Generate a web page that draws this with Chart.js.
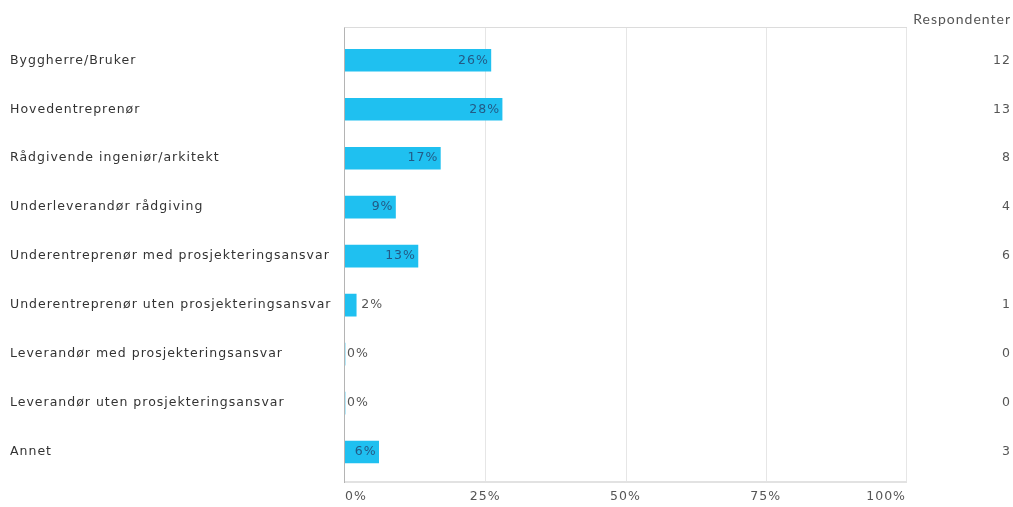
<!DOCTYPE html>
<html>
<head>
<meta charset="utf-8">
<script src="https://cdn.jsdelivr.net/npm/chart.js@4.4.1/dist/chart.umd.min.js"></script>
<style>
  html, body { margin: 0; padding: 0; background: #fff; }
  #wrap { width: 1013px; height: 507px; }
</style>
</head>
<body>
<div id="wrap"><canvas id="rolleChart"></canvas></div>
<script>
const roller = [
  'Byggherre/Bruker',
  'Hovedentreprenør',
  'Rådgivende ingeniør/arkitekt',
  'Underleverandør rådgiving',
  'Underentreprenør med prosjekteringsansvar',
  'Underentreprenør uten prosjekteringsansvar',
  'Leverandør med prosjekteringsansvar',
  'Leverandør uten prosjekteringsansvar',
  'Annet'
];
const prosent = [26, 28, 17, 9, 13, 2, 0, 0, 6];
const respondenter = [12, 13, 8, 4, 6, 1, 0, 0, 3];
const prosentTicks = [0, 25, 50, 75, 100];

const fontFamily = '"DejaVu Sans", Verdana, sans-serif';
const labelFont = { family: fontFamily, size: 12.5 };

// frame and vertical grid lines, drawn a little past the bar bands
const framePlugin = {
  id: 'frame',
  beforeDraw(chart) {
    chart.ctx.letterSpacing = '1px';
  },
  beforeDatasetsDraw(chart) {
    const { ctx, chartArea, scales } = chart;
    const top = chartArea.top - 8.5;
    const bottom = chartArea.bottom + 5.5;
    ctx.save();
    ctx.lineWidth = 1;
    ctx.strokeStyle = '#e6e6e6';
    prosentTicks.forEach(v => {
      if (v === 0) return;
      const x = Math.round(scales.x.getPixelForValue(v)) + 0.5;
      ctx.beginPath();
      ctx.moveTo(x, top);
      ctx.lineTo(x, bottom);
      ctx.stroke();
    });
    ctx.strokeStyle = '#dcdcdc';
    ctx.beginPath();
    ctx.moveTo(chartArea.left, Math.round(top) + 0.5);
    ctx.lineTo(chartArea.right + 1, Math.round(top) + 0.5);
    ctx.stroke();
    ctx.lineWidth = 2;
    ctx.strokeStyle = '#e2e2e2';
    ctx.beginPath();
    ctx.moveTo(chartArea.left, Math.round(bottom));
    ctx.lineTo(chartArea.right + 1, Math.round(bottom));
    ctx.stroke();
    ctx.lineWidth = 1;
    ctx.strokeStyle = '#b4b4b4';
    const x0 = Math.round(scales.x.getPixelForValue(0)) - 0.5;
    ctx.beginPath();
    ctx.moveTo(x0, top);
    ctx.lineTo(x0, bottom + 1);
    ctx.stroke();
    ctx.restore();
  },
  // percentage label at the end of each bar
  afterDatasetsDraw(chart) {
    const { ctx } = chart;
    const meta = chart.getDatasetMeta(0);
    ctx.save();
    ctx.font = '12.5px ' + fontFamily;
    ctx.letterSpacing = '1px';
    ctx.textBaseline = 'middle';
    meta.data.forEach((bar, i) => {
      const txt = prosent[i] + '%';
      const w = ctx.measureText(txt).width;
      const barW = bar.x - bar.base;
      if (prosent[i] === 0) {
        ctx.fillStyle = '#555';
        ctx.textAlign = 'left';
        ctx.fillText(txt, bar.base + 2, bar.y);
      } else if (barW >= w + 3) {
        ctx.fillStyle = '#235a86';
        ctx.textAlign = 'right';
        ctx.fillText(txt, bar.x - 2, bar.y);
      } else {
        ctx.fillStyle = '#555';
        ctx.textAlign = 'left';
        ctx.fillText(txt, bar.x + 5, bar.y);
      }
    });
    ctx.restore();
  }
};

const ctx = document.getElementById('rolleChart').getContext('2d');

const rolleChart = new Chart(ctx, {
  type: 'bar',
  data: {
    labels: roller,
    datasets: [{
      label: 'Andel',
      data: prosent,
      backgroundColor: '#1fc0f0',
      borderWidth: 0,
      barThickness: 22,
      minBarLength: 0,
      yAxisID: 'y'
    }]
  },
  options: {
    indexAxis: 'y',
    responsive: true,
    maintainAspectRatio: false,
    animation: false,
    layout: {
      padding: { left: 10, right: 2, top: 0, bottom: 2 }
    },
    plugins: {
      legend: { display: false },
      tooltip: { enabled: false },
      title: {
        display: true,
        text: 'Respondenter',
        align: 'end',
        color: '#555',
        font: { family: 'Lato, sans-serif', size: 14, weight: 'normal' },
        padding: { top: 11, bottom: 8 }
      }
    },
    scales: {
      x: {
        min: 0,
        max: 100,
        afterBuildTicks: axis => {
          axis.ticks = prosentTicks.map(v => ({ value: v }));
        },
        afterFit: axis => { axis.height = 28.5; },
        grid: { display: false, drawTicks: false },
        border: { display: false },
        ticks: {
          align: 'inner',
          padding: 13,
          color: '#555',
          font: labelFont,
          callback: v => v + '%'
        }
      },
      y: {
        position: 'left',
        grid: { display: false, drawTicks: false },
        border: { display: false },
        afterFit: axis => { axis.width = 335; },
        ticks: {
          crossAlign: 'far',
          color: '#333',
          font: labelFont
        }
      },
      y2: {
        type: 'category',
        labels: respondenter.map(String),
        position: 'right',
        offset: true,
        grid: { display: false, drawTicks: false },
        border: { display: false },
        afterFit: axis => { axis.width = 105; },
        ticks: {
          crossAlign: 'far',
          color: '#555',
          font: labelFont
        }
      }
    }
  },
  plugins: [framePlugin]
});
</script>
</body>
</html>
